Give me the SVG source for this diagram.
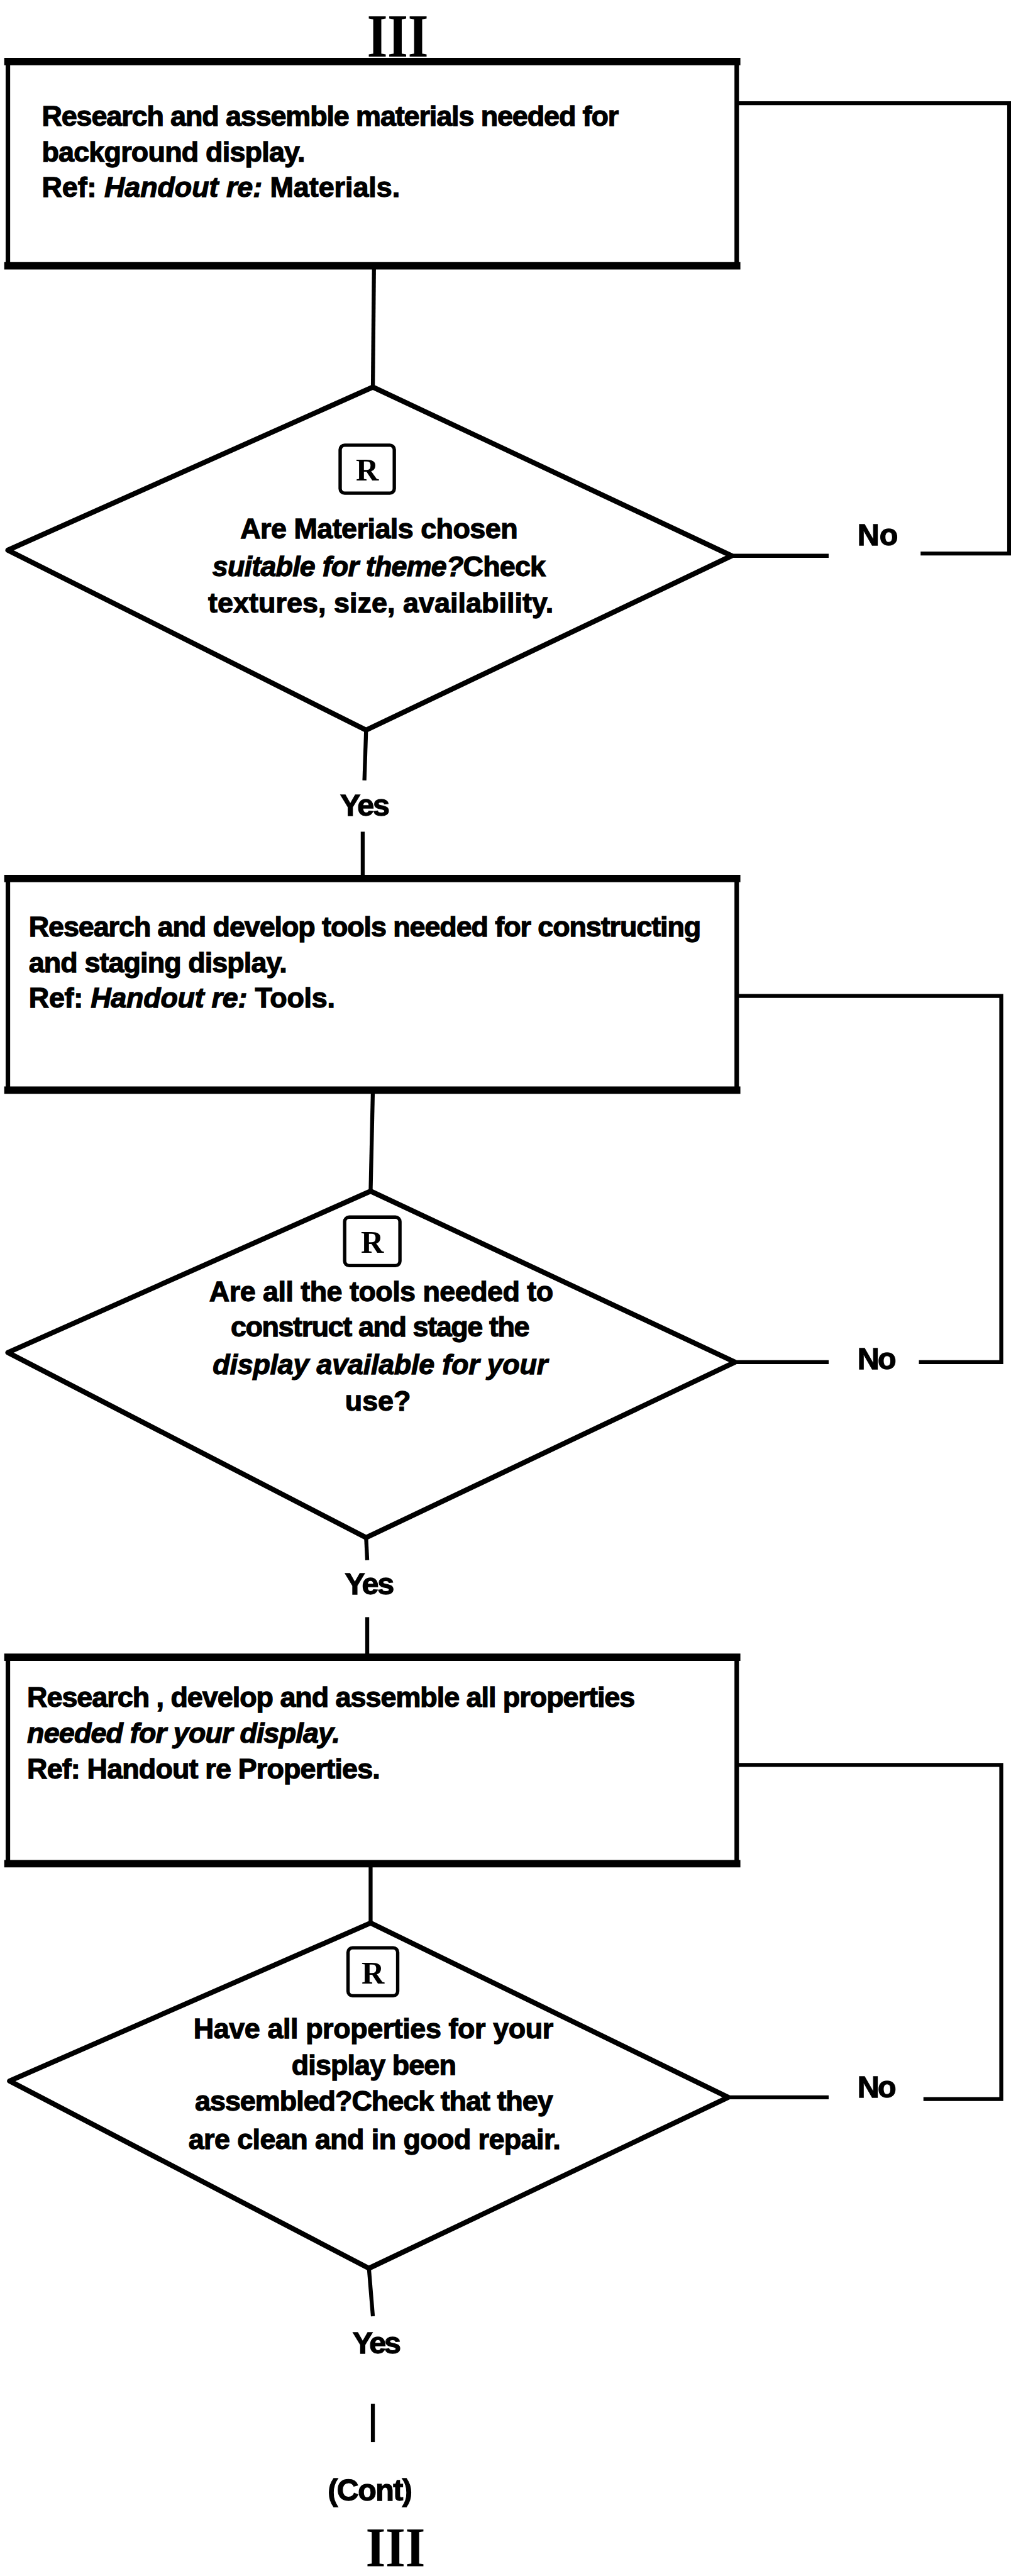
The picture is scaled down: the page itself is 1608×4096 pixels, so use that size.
<svg xmlns="http://www.w3.org/2000/svg" width="1608" height="4096" viewBox="0 0 1608 4096">
  <defs>
    <style>
      .bg { fill: #ffffff; }
      .box { fill: #ffffff; stroke: #000; stroke-width: 8; stroke-linejoin: round; }
      .edge { stroke: #000; stroke-width: 13; stroke-linecap: square; }
      .dia { fill: #ffffff; stroke: #000; stroke-width: 9; stroke-linejoin: round; }
      .rbox { fill: none; stroke: #000; stroke-width: 6; }
      .conn { fill: none; stroke: #000; stroke-width: 7; stroke-linecap: butt; stroke-linejoin: miter; }
      .t { font-family: "Liberation Sans", Arial, sans-serif; font-weight: bold; font-size: 50px; fill: #000; stroke: #000; stroke-width: 1.4px; }
      .c { text-anchor: middle; }
      .i { font-style: italic; }
      .lbl { font-family: "Liberation Sans", Arial, sans-serif; font-weight: bold; font-size: 54px; fill: #000; stroke: #000; stroke-width: 1.4px; }
      .rn { font-family: "Liberation Serif", "Times New Roman", serif; font-weight: bold; fill: #000; }
    </style>
  </defs>
  <rect class="bg" x="0" y="0" width="1608" height="4096"/>
  <g transform="scale(0.8972)">
    <!-- connectors -->
    <g id="connectors">
      <path class="conn" d="M663,471 L661,686"/>
      <path class="conn" d="M1297,985 L1469,985"/>
      <path class="conn" d="M1632,981 L1789,981 L1789,183 L1306,183"/>
      <path class="conn" d="M649,1294 L646,1383"/>
      <path class="conn" d="M643,1474 L643,1557"/>
      <path class="conn" d="M661,1932 L657,2111"/>
      <path class="conn" d="M1303,2414 L1469,2414"/>
      <path class="conn" d="M1629,2414 L1775,2414 L1775,1765 L1306,1765"/>
      <path class="conn" d="M649,2725 L651,2765"/>
      <path class="conn" d="M651,2866 L651,2937"/>
      <path class="conn" d="M657,3303 L657,3408"/>
      <path class="conn" d="M1291,3717 L1469,3717"/>
      <path class="conn" d="M1637,3720 L1775,3720 L1775,3128 L1306,3128"/>
      <path class="conn" d="M654,4020 L661,4105"/>
      <path class="conn" d="M661,4260 L661,4328"/>
    </g>

    <!-- section mark at top -->
    <g id="mark-top">
      <text class="rn" x="705" y="100" font-size="108" text-anchor="middle" textLength="109" lengthAdjust="spacingAndGlyphs">III</text>
    </g>

    <!-- step 1 -->
    <g id="box-materials">
      <rect class="box" x="14" y="109" width="1292" height="362"/>
      <line class="edge" x1="14" y1="109" x2="1306" y2="109"/>
      <line class="edge" x1="14" y1="471" x2="1306" y2="471"/>
      <text class="t" x="74" y="223" textLength="1023">Research and assemble materials needed for</text>
      <text class="t" x="74" y="286" textLength="467">background display.</text>
      <text class="t" x="74" y="349" textLength="635">Ref: <tspan class="i">Handout re:</tspan> Materials.</text>
    </g>

    <g id="dec-materials">
      <polygon class="dia" points="661,686 1297,985 649,1294 14,975"/>
      <rect class="rbox" x="603" y="789" width="96" height="85" rx="8"/>
      <text class="rn c" x="651" y="851" font-size="56">R</text>
      <text class="t c" x="672" y="954" textLength="492">Are Materials chosen</text>
      <text class="t c" x="672" y="1021" textLength="591"><tspan class="i">suitable for theme?</tspan>Check</text>
      <text class="t c" x="675" y="1086" textLength="612">textures, size, availability.</text>
    </g>

    <g id="lbl-no-1"><text class="lbl" x="1520" y="966" textLength="72">No</text></g>
    <g id="lbl-yes-1"><text class="lbl" x="603" y="1446" textLength="88">Yes</text></g>

    <!-- step 2 -->
    <g id="box-tools">
      <rect class="box" x="14" y="1557" width="1292" height="375"/>
      <line class="edge" x1="14" y1="1557" x2="1306" y2="1557"/>
      <line class="edge" x1="14" y1="1932" x2="1306" y2="1932"/>
      <text class="t" x="51" y="1660" textLength="1192">Research and develop tools needed for constructing</text>
      <text class="t" x="51" y="1723" textLength="458">and staging display.</text>
      <text class="t" x="51" y="1786" textLength="543">Ref: <tspan class="i">Handout re:</tspan> Tools.</text>
    </g>

    <g id="dec-tools">
      <polygon class="dia" points="657,2111 1303,2414 649,2725 14,2397"/>
      <rect class="rbox" x="611" y="2157" width="98" height="86" rx="8"/>
      <text class="rn c" x="660" y="2220" font-size="56">R</text>
      <text class="t c" x="676" y="2306" textLength="610">Are all the tools needed to</text>
      <text class="t c" x="674" y="2369" textLength="530">construct and stage the</text>
      <text class="t c i" x="674" y="2435" textLength="594">display available for your</text>
      <text class="t c" x="670" y="2500">use?</text>
    </g>

    <g id="lbl-no-2"><text class="lbl" x="1520" y="2426" textLength="69">No</text></g>
    <g id="lbl-yes-2"><text class="lbl" x="611" y="2826" textLength="88">Yes</text></g>

    <!-- step 3 -->
    <g id="box-properties">
      <rect class="box" x="14" y="2937" width="1292" height="366"/>
      <line class="edge" x1="14" y1="2937" x2="1306" y2="2937"/>
      <line class="edge" x1="14" y1="3303" x2="1306" y2="3303"/>
      <text class="t" x="48" y="3025" textLength="1078">Research , develop and assemble all properties</text>
      <text class="t i" x="48" y="3088" textLength="555">needed for your display.</text>
      <text class="t" x="48" y="3152" textLength="626">Ref: Handout re Properties.</text>
    </g>

    <g id="dec-properties">
      <polygon class="dia" points="657,3408 1291,3717 654,4020 17,3688"/>
      <rect class="rbox" x="617" y="3452" width="88" height="85" rx="8"/>
      <text class="rn c" x="661" y="3515" font-size="56">R</text>
      <text class="t c" x="662" y="3612" textLength="638">Have all properties for your</text>
      <text class="t c" x="663" y="3677" textLength="292">display been</text>
      <text class="t c" x="663" y="3740" textLength="635">assembled?Check that they</text>
      <text class="t c" x="664" y="3808" textLength="660">are clean and in good repair.</text>
    </g>

    <g id="lbl-no-3"><text class="lbl" x="1520" y="3717" textLength="69">No</text></g>
    <g id="lbl-yes-3"><text class="lbl" x="625" y="4171" textLength="86">Yes</text></g>

    <!-- continuation -->
    <g id="cont">
      <text class="lbl" x="581" y="4432" font-size="50" textLength="150">(Cont)</text>
    </g>
    <g id="mark-bottom">
      <text class="rn" x="701" y="4548" font-size="100" text-anchor="middle" textLength="105" lengthAdjust="spacingAndGlyphs">III</text>
    </g>
  </g>
</svg>
